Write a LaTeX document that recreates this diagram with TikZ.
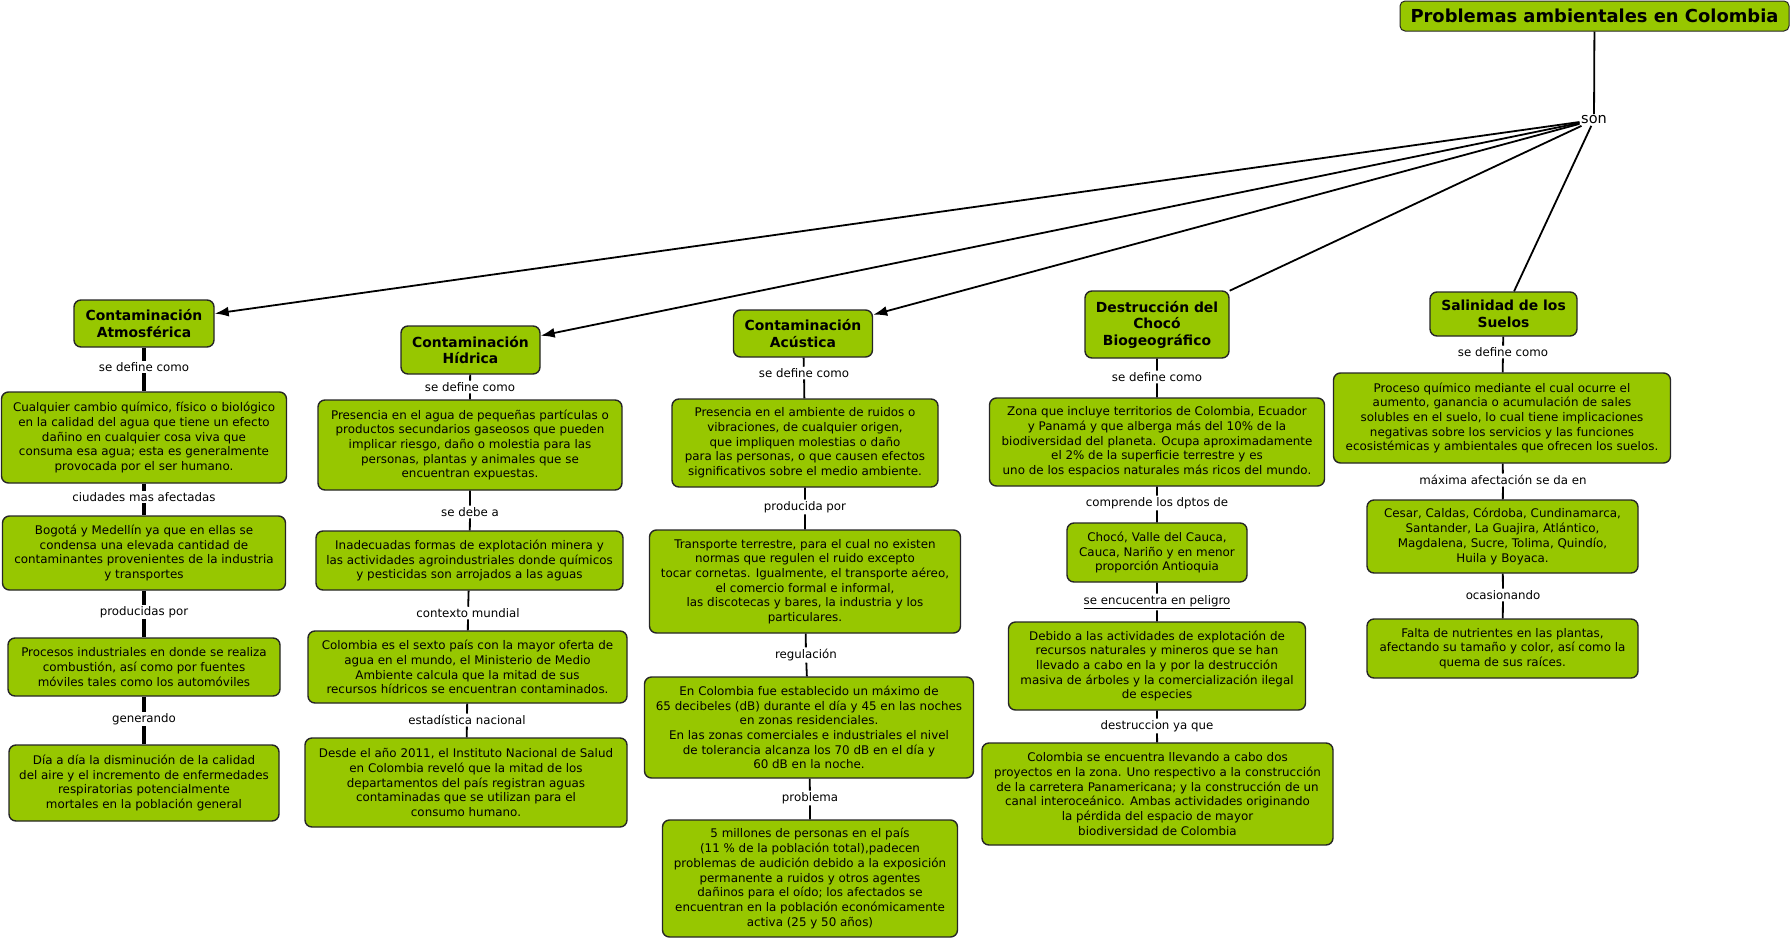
\documentclass[tikz,border=0pt]{standalone}
\usepackage{fontspec}
\setmainfont{DejaVu Sans}
\usetikzlibrary{arrows.meta}
\definecolor{cmapgreen}{RGB}{151,199,0}
\tikzset{
	x=1pt, y=-1pt,
	concept/.style={draw=black!85, fill=cmapgreen, line width=1.4pt, rounded corners=7pt, align=center, inner sep=2pt, font=\fontsize{11.9}{14.7}\selectfont},
	topic/.style={concept, font=\bfseries\fontsize{13.9}{16.5}\selectfont},
	link/.style={inner sep=1.5pt, font=\fontsize{11.8}{13}\selectfont},
	thickline/.style={line width=3.2pt},
	thinline/.style={line width=1.8pt},
	branch/.style={line width=1.8pt, -{Latex[length=14pt, width=10pt]}}
}

\begin{document}
\begin{tikzpicture}
	\useasboundingbox (0,0) rectangle (1792,940);

	\node[concept, rounded corners=5pt, line width=1pt, minimum width=389, minimum height=30, font=\bfseries\fontsize{17.9}{20}\selectfont] (title) at (1594.5,16) {Problemas ambientales en Colombia};
	\node[link, font=\fontsize{14.5}{16}\selectfont] (son) at (1594,120) {son};

	\node[topic,   minimum width=140, minimum height=47] (A1) at (144,323.5) {Contaminación\\Atmosférica};
	\node[link]                                          (a1) at (144,367)   {se define como};
	\node[concept, minimum width=285, minimum height=91] (A2) at (144,437.5) {Cualquier cambio químico, físico o biológico\\en la calidad del agua que tiene un efecto\\dañino en cualquier cosa viva que\\consuma esa agua; esta es generalmente\\provocada por el ser humano.};
	\node[link]                                          (a2) at (144,497)   {ciudades mas afectadas};
	\node[concept, minimum width=283, minimum height=74] (A3) at (144,553)   {Bogotá y Medellín ya que en ellas se\\condensa una elevada cantidad de\\contaminantes provenientes de la industria\\y transportes};
	\node[link]                                          (a3) at (144,612)   {producidas por};
	\node[concept, minimum width=272, minimum height=58] (A4) at (144,667)   {Procesos industriales en donde se realiza\\combustión, así como por fuentes\\móviles tales como los automóviles};
	\node[link]                                          (a4) at (144,719)   {generando};
	\node[concept, minimum width=270, minimum height=76] (A5) at (144,783)   {Día a día la disminución de la calidad\\del aire y el incremento de enfermedades\\respiratorias potencialmente\\mortales en la población general};

	\node[topic,   minimum width=139, minimum height=48] (B1) at (470.5,350) {Contaminación\\Hídrica};
	\node[link]                                          (b1) at (470,387)   {se define como};
	\node[concept, minimum width=304, minimum height=90] (B2) at (470,445)   {Presencia en el agua de pequeñas partículas o\\productos secundarios gaseosos que pueden\\implicar riesgo, daño o molestia para las\\personas, plantas y animales que se\\encuentran expuestas.};
	\node[link]                                          (b2) at (470,512)   {se debe a};
	\node[concept, minimum width=307, minimum height=59] (B3) at (469.5,560.5) {Inadecuadas formas de explotación minera y\\las actividades agroindustriales donde químicos\\y pesticidas son arrojados a las aguas};
	\node[link]                                          (b3) at (468,613)   {contexto mundial};
	\node[concept, minimum width=319, minimum height=72] (B4) at (467.5,667) {Colombia es el sexto país con la mayor oferta de\\agua en el mundo, el Ministerio de Medio\\Ambiente calcula que la mitad de sus\\recursos hídricos se encuentran contaminados.};
	\node[link]                                          (b4) at (467,720)   {estadística nacional};
	\node[concept, minimum width=322, minimum height=89] (B5) at (466,782.5)  {Desde el año 2011, el Instituto Nacional de Salud\\en Colombia reveló que la mitad de los\\departamentos del país registran aguas\\contaminadas que se utilizan para el\\consumo humano.};

	\node[topic,   minimum width=139, minimum height=47]  (C1) at (803,333.5) {Contaminación\\Acústica};
	\node[link]                                           (c1) at (804,373)   {se define como};
	\node[concept, minimum width=266, minimum height=88]  (C2) at (805,443)   {Presencia en el ambiente de ruidos o\\vibraciones, de cualquier origen,\\que impliquen molestias o daño\\para las personas, o que causen efectos\\significativos sobre el medio ambiente.};
	\node[link]                                           (c2) at (805,507)   {producida por};
	\node[concept, minimum width=311, minimum height=103] (C3) at (805,581.5) {Transporte terrestre, para el cual no existen\\normas que regulen el ruido excepto\\tocar cornetas. Igualmente, el transporte aéreo,\\el comercio formal e informal,\\las discotecas y bares, la industria y los\\particulares.};
	\node[link]                                           (c3) at (806,655)   {regulación};
	\node[concept, minimum width=329, minimum height=101] (C4) at (809,727.5) {En Colombia fue establecido un máximo de\\65 decibeles (dB) durante el día y 45 en las noches\\en zonas residenciales.\\En las zonas comerciales e industriales el nivel\\de tolerancia alcanza los 70 dB en el día y\\60 dB en la noche.};
	\node[link]                                           (c4) at (810,798)   {problema};
	\node[concept, minimum width=295, minimum height=117] (C5) at (810,878.5) {5 millones de personas en el país\\(11 \% de la población total),padecen\\problemas de audición debido a la exposición\\permanente a ruidos y otros agentes\\dañinos para el oído; los afectados se\\encuentran en la población económicamente\\activa (25 y 50 años)};

	\node[topic,   minimum width=144, minimum height=67]  (D1) at (1157,324.5) {Destrucción del\\Chocó\\Biogeográfico};
	\node[link]                                           (d1) at (1157,377)   {se define como};
	\node[concept, minimum width=335, minimum height=88]  (D2) at (1157,442)   {Zona que incluye territorios de Colombia, Ecuador\\y Panamá y que alberga más del 10\% de la\\biodiversidad del planeta. Ocupa aproximadamente\\el 2\% de la superficie terrestre y es\\uno de los espacios naturales más ricos del mundo.};
	\node[link]                                           (d2) at (1157,503)   {comprende los dptos de};
	\node[concept, minimum width=180, minimum height=59]  (D3) at (1157,552.5) {Chocó, Valle del Cauca,\\Cauca, Nariño y en menor\\proporción Antioquia};
	\node[link]                                           (d3) at (1157,602)   {\underline{se encucentra en peligro}};
	\node[concept, minimum width=297, minimum height=88]  (D4) at (1157,666)   {Debido a las actividades de explotación de\\recursos naturales y mineros que se han\\llevado a cabo en la y por la destrucción\\masiva de árboles y la comercialización ilegal\\de especies};
	\node[link]                                           (d4) at (1157,726)   {destruccion ya que};
	\node[concept, minimum width=351, minimum height=102] (D5) at (1157.5,794) {Colombia se encuentra llevando a cabo dos\\proyectos en la zona. Uno respectivo a la construcción\\de la carretera Panamericana; y la construcción de un\\canal interoceánico. Ambas actividades originando\\la pérdida del espacio de mayor\\biodiversidad de Colombia};

	\node[topic,   minimum width=147, minimum height=44] (E1) at (1503.5,314) {Salinidad de los\\Suelos};
	\node[link]                                          (e1) at (1503,352)   {se define como};
	\node[concept, minimum width=337, minimum height=90] (E2) at (1502,418)   {Proceso químico mediante el cual ocurre el\\aumento, ganancia o acumulación de sales\\solubles en el suelo, lo cual tiene implicaciones\\negativas sobre los servicios y las funciones\\ecosistémicas y ambientales que ofrecen los suelos.};
	\node[link]                                          (e2) at (1503,480)   {máxima afectación se da en};
	\node[concept, minimum width=271, minimum height=73] (E3) at (1502.5,536.5) {Cesar, Caldas, Córdoba, Cundinamarca,\\Santander, La Guajira, Atlántico,\\Magdalena, Sucre, Tolima, Quindío,\\Huila y Boyaca.};
	\node[link]                                          (e3) at (1503,595)   {ocasionando};
	\node[concept, minimum width=271, minimum height=59] (E4) at (1502.5,648.5) {Falta de nutrientes en las plantas,\\afectando su tamaño y color, así como la\\quema de sus raíces.};

	\draw[thinline] (title) -- (son);
	\draw[branch] (son) -- (A1);
	\draw[branch] (son) -- (B1);
	\draw[branch] (son) -- (C1);
	\draw[thinline] (son) -- (D1);
	\draw[thinline] (son) -- (E1);

	\draw[thickline] (A1) -- (a1) -- (A2) -- (a2) -- (A3) -- (a3) -- (A4) -- (a4) -- (A5);
	\draw[thinline]  (B1) -- (b1) -- (B2) -- (b2) -- (B3) -- (b3) -- (B4) -- (b4) -- (B5);
	\draw[thinline]  (C1) -- (c1) -- (C2) -- (c2) -- (C3) -- (c3) -- (C4) -- (c4) -- (C5);
	\draw[thinline]  (D1) -- (d1) -- (D2) -- (d2) -- (D3) -- (d3) -- (D4) -- (d4) -- (D5);
	\draw[thinline]  (E1) -- (e1) -- (E2) -- (e2) -- (E3) -- (e3) -- (E4);
\end{tikzpicture}
\end{document}
